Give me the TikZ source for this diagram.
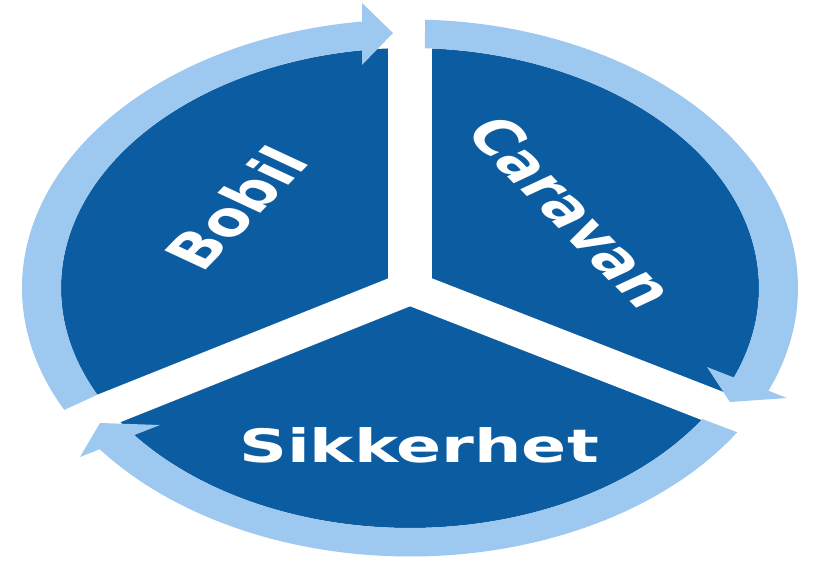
\documentclass[tikz,border=0pt]{standalone}
\usepackage{fontspec}
\setmainfont{DejaVu Sans}
\usetikzlibrary{calc}
\definecolor{darkblue}{HTML}{0C5CA2}
\definecolor{lightblue}{HTML}{9DC8F0}
\begin{document}
\begin{tikzpicture}[x=1pt,y=1pt,
  darksector/.style={fill=darkblue},
  ringarc/.style={fill=lightblue},
  gapline/.style={draw=white},
  txt/.style={text=white,font=\fontsize{47}{50}\selectfont\bfseries,inner sep=0pt}]
\fill[white] (0,0) rectangle (831,566);
\useasboundingbox (0,0) rectangle (831,566);
\coordinate (O) at (410,278);
\coordinate (gtop) at (410,600);
\coordinate (gbase) at (410,266);
\coordinate (gleft) at ($(O)+(-400,-160)$);
\coordinate (gright) at ($(O)+(400,-156)$);
% dark disc
\fill[darksector] (O) ellipse [x radius=349, y radius=240];
% white gaps
\draw[gapline, line width=44] (gbase) -- (gtop);
\draw[gapline, line width=34] (O) -- (gleft);
\draw[gapline, line width=34] (O) -- (gright);
% ring arcs with arrow heads
\begin{scope}[shift={(O)}]
\fill[ringarc] ({388*cos(207)},{268.5*sin(207)})
   arc[start angle=207, end angle=97.1, x radius=388, y radius=268.5]
   -- (-48,285) -- (-17,255) -- (-48,223)
   -- ({349*cos(97.9)},{240*sin(97.9)})
   arc[start angle=97.9, end angle=206.4, x radius=349, y radius=240] -- cycle;
\fill[ringarc] ({388*cos(87.78)},{268.5*sin(87.78)})
   arc[start angle=87.78, end angle=-22.5, x radius=388, y radius=268.5]
   -- (377,-110) -- (320,-114) -- (297,-79)
   -- ({349*cos(-21.9)},{240*sin(-21.9)})
   arc[start angle=-21.9, end angle=87.54, x radius=349, y radius=240] -- cycle;
\fill[ringarc] ({388*cos(-32.5)},{268.5*sin(-32.5)})
   arc[start angle=-32.5, end angle=-143.1, x radius=388, y radius=268.5]
   -- (-330,-169) -- (-310,-135) -- (-250,-137)
   -- ({349*cos(-142.2)},{240*sin(-142.2)})
   arc[start angle=-142.2, end angle=-33.1, x radius=349, y radius=240] -- cycle;
\end{scope}
% labels: rotated, then stretched horizontally like the whole picture
\begin{scope}[shift={(236,358)}, cm={0.8092,0.8290,-1.1996,0.5592,(0,0)}]
  \node[txt, transform shape] (bobil) at (0,0) {Bobil};
\end{scope}
\begin{scope}[shift={(572,354)}, cm={0.8092,-0.8290,1.1996,0.5592,(0,0)}]
  \node[txt, transform shape] (caravan) at (0,0) {Caravan};
\end{scope}
\begin{scope}[shift={(419,121)}, xscale=1.447]
  \node[txt, font=\fontsize{46}{50}\selectfont\bfseries, transform shape] (sikkerhet) at (0,0) {Sikkerhet};
\end{scope}
\end{tikzpicture}
\end{document}
